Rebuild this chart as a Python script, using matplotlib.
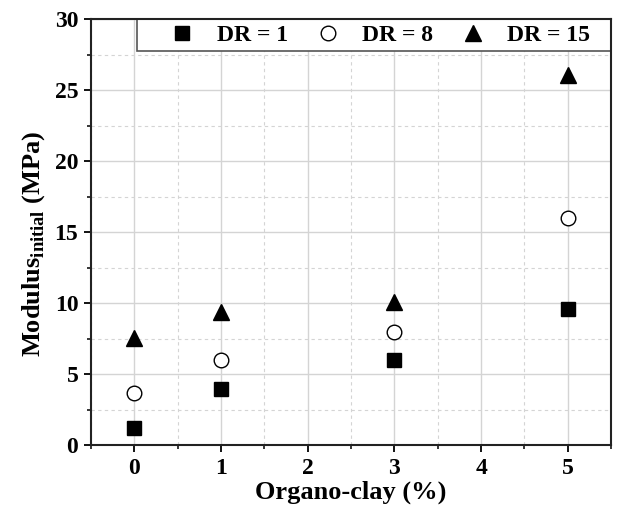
import matplotlib
matplotlib.use("Agg")
import matplotlib.pyplot as plt
from matplotlib.patches import Rectangle
from matplotlib.ticker import MultipleLocator

# ---------- dados ----------
organo_clay = [0, 1, 3, 5]
dr1 = [1.2, 4.0, 6.0, 9.6]
dr8 = [3.7, 6.0, 8.0, 16.0]
dr15 = [7.6, 9.4, 10.1, 26.1]

x_ticks = [0, 1, 2, 3, 4, 5]
y_ticks = [0, 5, 10, 15, 20, 25, 30]

plt.rcParams["font.family"] = ["Liberation Serif", "DejaVu Serif"]
plt.rcParams["font.weight"] = "bold"
plt.rcParams["mathtext.fontset"] = "custom"
plt.rcParams["mathtext.rm"] = "Liberation Serif"

fig = plt.figure(figsize=(6.18, 5.12), dpi=100)
ax = fig.add_axes([0.147, 0.130, 0.842, 0.832])

ax.plot(organo_clay, dr1, linestyle="none", marker="s", ms=9.5,
        color="black", label="DR = 1", zorder=3)
ax.plot(organo_clay, dr8, linestyle="none", marker="o", ms=10.5,
        markerfacecolor="white", markeredgecolor="black", markeredgewidth=1.0,
        label="DR = 8", zorder=3)
ax.plot(organo_clay, dr15, linestyle="none", marker="^", ms=12,
        color="black", label="DR = 15", zorder=3)

ax.set_xlim(-0.5, 5.5)
ax.set_ylim(0, 30)
ax.set_xticks(x_ticks)
ax.set_yticks(y_ticks)
ax.xaxis.set_minor_locator(MultipleLocator(0.5))
ax.yaxis.set_minor_locator(MultipleLocator(2.5))

# grade: principal contínua, secundária tracejada
ax.grid(which="major", color="#d4d4d4", linewidth=1.0, linestyle="-")
ax.grid(which="minor", color="#d4d4d4", linewidth=0.8, linestyle=(0, (3, 3)))
ax.set_axisbelow(True)

ax.tick_params(which="major", direction="out", length=5, width=1.3,
               labelsize=17, pad=4)
ax.tick_params(which="minor", direction="out", length=3, width=1.1)
for lbl in ax.get_xticklabels() + ax.get_yticklabels():
    lbl.set_fontweight("bold")

for side in ["left", "bottom", "right", "top"]:
    ax.spines[side].set_linewidth(1.5)
    ax.spines[side].set_color("#222222")

ax.set_xlabel("Organo-clay (%)", fontsize=19, fontweight="bold", labelpad=1)
ax.set_ylabel(r"Modulus$_{\rm initial}$ (MPa)", fontsize=19,
              fontweight="bold", labelpad=4)
ax.yaxis.set_label_coords(-0.084, 0.474)

# caixa da legenda encostada no topo/direita
ax.add_patch(Rectangle((0.088, 0.926), 0.912, 0.074, transform=ax.transAxes,
                       facecolor="white", edgecolor="#555555", linewidth=1.2,
                       zorder=2.5, clip_on=False))

leg = ax.legend(loc="center right", bbox_to_anchor=(0.985, 0.963),
                ncol=3, borderaxespad=0, numpoints=1, frameon=False,
                handlelength=1.4, handletextpad=0.75, columnspacing=1.0,
                prop={"size": 17, "weight": "bold"}, borderpad=0.55)
leg.set_zorder(4)

fig.savefig("out.png", dpi=100)
